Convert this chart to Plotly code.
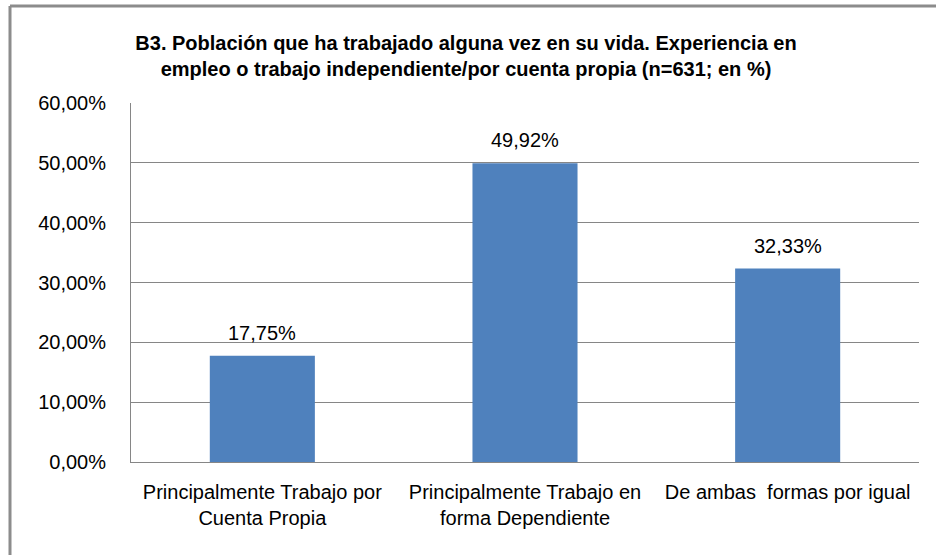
import plotly.graph_objects as go

categories = ["Principalmente Trabajo por<br>Cuenta Propia",
              "Principalmente Trabajo en<br>forma Dependiente",
              "De ambas  formas por igual"]
values = [0.1775, 0.4992, 0.3233]
tick_vals = [0, 0.1, 0.2, 0.3, 0.4, 0.5, 0.6]
title_text = ("<b>B3. Población que ha trabajado alguna vez en su vida. Experiencia en<br>"
              "empleo o trabajo independiente/por cuenta propia (n=631; en %)</b>")

L, R, T, B = 131, 17, 103, 93
W, H = 936, 555
pw, ph = W - L - R, H - T - B
FONT = "Liberation Sans, Arial"

fig = go.Figure(go.Bar(
    x=categories, y=values,
    marker=dict(color="#4F81BD", line=dict(width=0)),
    hoverinfo="skip",
))

for c, v in zip(categories, values):
    fig.add_annotation(x=c, y=v, text=f"{v*100:.2f}%".replace(".", ","),
                       showarrow=False, yanchor="middle", yshift=23,
                       font=dict(family=FONT, size=20, color="#000000"))

fig.update_layout(
    width=W, height=H,
    margin=dict(l=L, r=R, t=T, b=B),
    paper_bgcolor="white", plot_bgcolor="white",
    separators=",.",
    bargap=0.6,
    showlegend=False,
    font=dict(family=FONT, size=20, color="#000000"),
    title=dict(text=title_text, x=(466 - L) / pw, xref="paper", xanchor="center",
               y=1 - 50 / H, yref="container", yanchor="middle",
               font=dict(family=FONT, size=20, color="#000000")),
)
fig.update_yaxes(range=[0, 0.6], tickvals=tick_vals, tickformat=".2%",
                 showgrid=True, gridcolor="#868686", gridwidth=1,
                 showline=True, linecolor="#868686", linewidth=1,
                 ticks="", ticklabelstandoff=20, zeroline=False,
                 tickfont=dict(family=FONT, size=20, color="#000000"))
fig.update_xaxes(showline=True, linecolor="#868686", linewidth=1, ticks="",
                 tickfont=dict(family=FONT, size=20, color="#000000"),
                 ticklabelstandoff=12)

# outer chart border (cropped at right and bottom in reference)
x0 = (10 - L) / pw
y1 = (H - B - 6) / ph
fig.add_shape(type="line", xref="paper", yref="paper", x0=x0, x1=x0, y0=-1, y1=y1,
              line=dict(color="#8C8C8C", width=3))
fig.add_shape(type="line", xref="paper", yref="paper", x0=x0, x1=2, y0=y1, y1=y1,
              line=dict(color="#8C8C8C", width=3))

fig.write_html("out.html", config={"displayModeBar": False},
               post_script="document.body.style.margin='0px';")
